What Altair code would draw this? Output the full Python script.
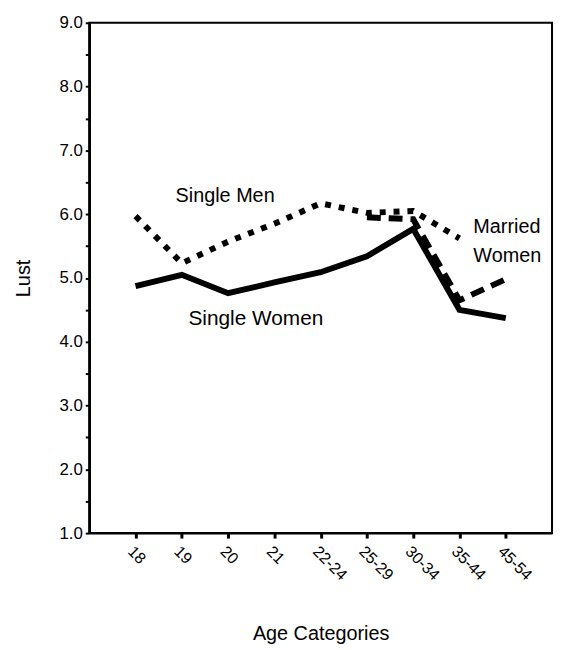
import altair as alt
import pandas as pd

categories = ["18", "19", "20", "21", "22-24", "25-29", "30-34", "35-44", "45-54"]
single_women = [4.87, 5.05, 4.76, 4.93, 5.09, 5.34, 5.77, 4.50, 4.37]
single_men_cats = ["18", "19", "20", "21", "22-24", "25-29", "30-34", "35-44"]
single_men = [5.97, 5.23, 5.57, 5.85, 6.17, 6.02, 6.05, 5.62]
married_cats = ["25-29", "30-34", "35-44", "45-54"]
married_women = [5.95, 5.92, 4.65, 4.98]

label_text = ["Single Men", "Single Women", "Married", "Women"]
label_cat = ["20", "20", "35-44", "35-44"]
label_val = [6.28, 4.36, 5.8, 5.35]
label_dx = [-3, -40, 14, 14]

FONT = "Liberation Sans"

sw = pd.DataFrame({"age": categories, "lust": single_women})
sm = pd.DataFrame({"age": single_men_cats, "lust": single_men})
mw = pd.DataFrame({"age": married_cats, "lust": married_women})
labels = pd.DataFrame({"age": label_cat, "lust": label_val, "text": label_text, "dx": label_dx})

yvals = [1 + 0.5 * i for i in range(17)]

xenc = alt.X(
    "age:N",
    sort=categories,
    scale=alt.Scale(type="point", domain=categories, padding=1),
    axis=alt.Axis(
        title="Age Categories",
        titleFont=FONT,
        titleFontSize=20,
        titleFontWeight="normal",
        titleColor="black",
        titleX=233.5,
        titleY=101,
        titleBaseline="middle",
        titleAlign="center",
        labelAngle=45,
        labelAlign="left",
        labelBaseline="top",
        labelFont=FONT,
        labelFontSize=16,
        labelColor="black",
        labelPadding=5,
        tickSize=5,
        tickWidth=3,
        tickColor="black",
        domainColor="black",
        domainWidth=2,
        grid=False,
    ),
)

yenc = alt.Y(
    "lust:Q",
    scale=alt.Scale(domain=[1, 9], nice=False, zero=False),
    axis=alt.Axis(
        title="Lust",
        titleFont=FONT,
        titleFontSize=20,
        titleFontWeight="normal",
        titleColor="black",
        titleX=-66,
        titleY=257.5,
        titleAngle=-90,
        titleBaseline="middle",
        titleAlign="center",
        values=yvals,
        labelExpr="datum.value % 1 === 0 ? format(datum.value, '.1f') : ''",
        labelFont=FONT,
        labelFontSize=17,
        labelColor="black",
        labelPadding=3,
        tickSize=4,
        tickWidth=2,
        tickColor="black",
        domainColor="black",
        domainWidth=2.5,
        grid=False,
    ),
)

men_line = alt.Chart(sm).mark_line(
    color="black", strokeWidth=6, strokeDash=[6, 8], strokeCap="butt"
).encode(x=xenc, y=yenc)

married_line = alt.Chart(mw).mark_line(
    color="black", strokeWidth=6, strokeDash=[14, 8], strokeCap="butt"
).encode(x=xenc, y=yenc)

women_line = alt.Chart(sw).mark_line(
    color="black", strokeWidth=6, strokeJoin="miter"
).encode(x=xenc, y=yenc)

text_layers = []
for i in range(len(label_text)):
    sub = labels.iloc[[i]]
    text_layers.append(
        alt.Chart(sub).mark_text(
            font=FONT,
            fontSize=21 if label_text[i] in ("Single Women",) else 20,
            color="black",
            align="center" if label_text[i] == "Single Men" else "left",
            baseline="middle",
            dx=label_dx[i],
        ).encode(x=xenc, y=yenc, text="text:N")
    )

chart = (
    alt.layer(men_line, married_line, women_line, *text_layers)
    .properties(
        width=467,
        height=515,
        autosize=alt.AutoSizeParams(type="none"),
        padding={"left": 82, "top": 12, "right": 2, "bottom": 110},
        background="white",
    )
    .configure_view(stroke="black", strokeWidth=2)
)

chart.save("out.html", embed_options={"renderer": "svg", "actions": False})
